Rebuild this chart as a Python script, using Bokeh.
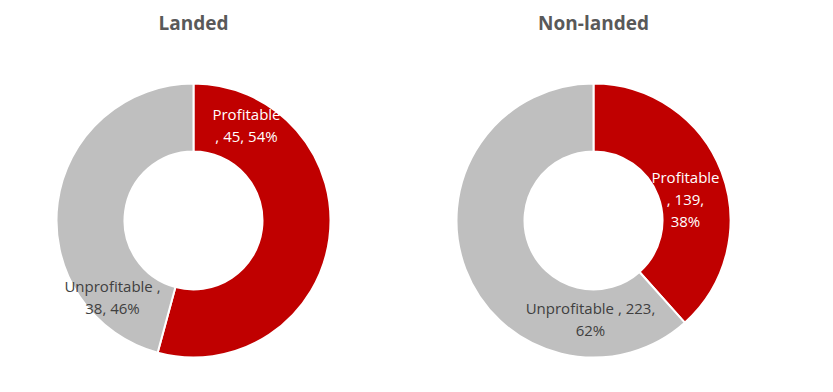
from bokeh.plotting import figure
from bokeh.models import ColumnDataSource
from bokeh.core.properties import value
from bokeh.embed import file_html
from bokeh.resources import INLINE
import numpy as np

titles = ["Landed", "Non-landed"]
categories = ["Profitable", "Unprofitable"]
landed_values = [45, 38]
nonlanded_values = [139, 223]
colors = ["#C00000", "#BFBFBF"]

W, H = 817, 376
p = figure(width=W, height=H, x_range=(0, W), y_range=(0, H),
           output_backend="svg", toolbar_location=None, min_border=0)
p.axis.visible = False
p.grid.visible = False
p.outline_line_color = None
p.background_fill_color = "white"
p.border_fill_color = "white"

def sy(y):  # screen y -> data y
    return H - y

def sx(x):
    return x

centers = [(sx(193), sy(220)), (sx(593), sy(220))]
R_OUT, R_IN = 137, 69

for (cx, cy), vals, title in zip(centers, [landed_values, nonlanded_values], titles):
    v = np.array(vals, dtype=float)
    frac = v / v.sum()
    cum = np.concatenate([[0], np.cumsum(frac)])
    start = np.pi / 2 - 2 * np.pi * cum[:-1]
    end = np.pi / 2 - 2 * np.pi * cum[1:]
    src = ColumnDataSource(dict(x=[cx] * len(v), y=[cy] * len(v), start=start, end=end,
                                color=colors, cat=categories))
    p.annular_wedge(x="x", y="y", inner_radius=R_IN, outer_radius=R_OUT,
                    start_angle="start", end_angle="end", direction="clock",
                    fill_color="color", line_color="white", line_width=2, source=src)
    p.text(x=[cx], y=[sy(22)], text=[title], text_font=value("Open Sans"),
           text_font_size="19px", text_font_style="bold", text_color="#595959",
           text_align="center", text_baseline="middle")

def pct(vals, i):
    return round(100 * vals[i] / sum(vals))

labels = [
    (sx(246), sy(124), "%s\n, %d, %d%%" % (categories[0], landed_values[0], pct(landed_values, 0)), "white"),
    (sx(112), sy(296), "%s ,\n%d, %d%%" % (categories[1], landed_values[1], pct(landed_values, 1)), "#404040"),
    (sx(685), sy(198), "%s\n, %d,\n%d%%" % (categories[0], nonlanded_values[0], pct(nonlanded_values, 0)), "white"),
    (sx(590), sy(318), "%s , %d,\n%d%%" % (categories[1], nonlanded_values[1], pct(nonlanded_values, 1)), "#404040"),
]
for x, y, t, c in labels:
    p.text(x=[x], y=[y], text=[t], text_font=value("Open Sans"), text_font_size="15px",
           text_color=c, text_align="center", text_baseline="middle", text_line_height=1.1)

open("out.html", "w").write(file_html(p, INLINE))
